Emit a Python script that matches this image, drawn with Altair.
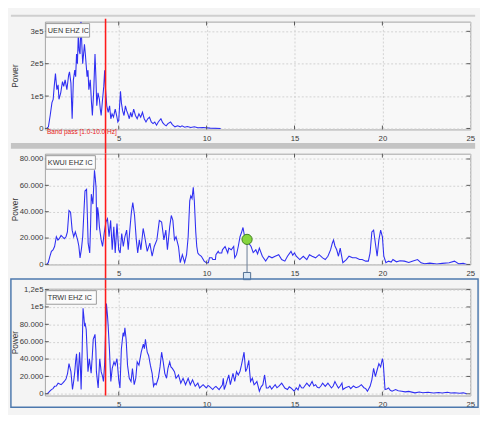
import altair as alt
import pandas as pd

# ---------------- data ----------------
uen_freq = [0.9, 1.0, 1.1, 1.2, 1.27, 1.33, 1.4, 1.48, 1.55, 1.6, 1.7, 1.8, 1.87, 1.95, 2.05, 2.15, 2.2, 2.28,
            2.35, 2.42, 2.5, 2.55, 2.6, 2.65, 2.7, 2.75, 2.8, 2.85, 2.9, 2.95, 3.05, 3.1, 3.2, 3.25, 3.3, 3.38,
            3.45, 3.5, 3.58, 3.65, 3.7, 3.75, 3.82, 3.9, 3.95, 4.0, 4.08, 4.15, 4.2, 4.25, 4.32, 4.4, 4.48,
            4.55, 4.62, 4.7, 4.8, 4.88, 4.95, 5.0, 5.05, 5.1, 5.15, 5.22, 5.3, 5.38, 5.45, 5.52, 5.6, 5.68,
            5.75, 5.85, 5.95, 6.05, 6.15, 6.25, 6.35, 6.45, 6.55, 6.65, 6.75, 6.85, 6.95, 7.05, 7.15, 7.25,
            7.4, 7.5, 7.6, 7.7, 7.8, 7.95, 8.05, 8.2, 8.35, 8.5, 8.6, 8.75, 8.9, 9.1, 9.3, 9.5, 9.8, 10.2, 10.8]
uen_power = [0, 5000, 40000, 80000, 90000, 130000, 170000, 120000, 135000, 90000, 110000, 145000, 130000,
             150000, 120000, 165000, 175000, 140000, 30000, 150000, 180000, 160000, 230000, 200000, 290000,
             240000, 230000, 330000, 260000, 200000, 260000, 230000, 160000, 180000, 120000, 150000, 80000,
             40000, 120000, 230000, 160000, 70000, 110000, 90000, 60000, 40000, 90000, 130000, 180000, 120000,
             70000, 50000, 70000, 30000, 45000, 35000, 60000, 40000, 20000, 25000, 70000, 115000, 80000, 55000,
             40000, 70000, 55000, 45000, 30000, 50000, 35000, 60000, 40000, 30000, 45000, 35000, 50000, 30000,
             20000, 30000, 35000, 20000, 15000, 20000, 10000, 20000, 30000, 18000, 12000, 8000, 15000, 20000,
             12000, 5000, 8000, 5000, 8000, 4000, 6000, 3000, 5000, 2000, 3000, 1000, 0]

kwui_freq = [0.9, 0.99, 1.08, 1.17, 1.26, 1.35, 1.45, 1.54, 1.63, 1.72, 1.8, 1.9, 2.0, 2.08, 2.17, 2.26, 2.35,
             2.44, 2.53, 2.66, 2.73, 2.8, 2.88, 2.95, 3.02, 3.08, 3.17, 3.22, 3.26, 3.35, 3.4, 3.44, 3.53, 3.58,
             3.62, 3.67, 3.71, 3.75, 3.8, 3.85, 3.9, 4.0, 4.08, 4.17, 4.27, 4.36, 4.45, 4.54, 4.63, 4.72, 4.8,
             4.9, 5.0, 5.08, 5.17, 5.26, 5.35, 5.45, 5.54, 5.63, 5.72, 5.8, 5.9, 6.0, 6.08, 6.17, 6.26, 6.39,
             6.48, 6.62, 6.77, 6.9, 7.02, 7.17, 7.31, 7.44, 7.57, 7.68, 7.77, 7.9, 7.99, 8.08, 8.17, 8.26, 8.4,
             8.5, 8.62, 8.75, 8.86, 8.95, 9.04, 9.1, 9.17, 9.24, 9.3, 9.38, 9.44, 9.5, 9.57, 9.7, 9.86, 9.98,
             10.1, 10.16, 10.3, 10.35, 10.5, 10.53, 10.66, 10.71, 10.86, 10.9, 11.05, 11.2, 11.26, 11.4, 11.54,
             11.6, 11.7, 11.8, 11.9, 11.98, 12.07, 12.16, 12.3, 12.4, 12.53, 12.65, 12.8, 12.9, 13.0, 13.17,
             13.36, 13.54, 13.72, 13.9, 14.1, 14.27, 14.45, 14.6, 14.8, 14.9, 15.0, 15.1, 15.3, 15.5, 15.7,
             15.85, 16.0, 16.2, 16.4, 16.6, 16.75, 16.9, 17.05, 17.15, 17.22, 17.3, 17.4, 17.5, 17.6, 17.75,
             17.95, 18.1, 18.3, 18.5, 18.7, 18.85, 19.05, 19.2, 19.3, 19.4, 19.5, 19.6, 19.7, 19.8, 19.9, 20.0,
             20.08, 20.2, 20.35, 20.5, 20.6, 20.8, 21.0, 21.25, 21.5, 21.7, 22.0, 22.2, 22.4, 22.7, 23.1, 23.4,
             23.8, 24.1, 24.35, 24.6, 24.8]
kwui_power = [0, 1300, 6000, 9900, 11000, 13600, 21000, 18500, 19800, 22000, 21000, 19500, 21000, 24700, 40900,
              39600, 26000, 21000, 24700, 18600, 14000, 5000, 12000, 21000, 40000, 55700, 57000, 35000, 16100,
              8700, 30000, 53300, 45800, 60000, 71500, 65000, 58200, 26000, 43300, 38000, 28500, 18600, 13600,
              23500, 32200, 34700, 21000, 33400, 11100, 28500, 8700, 31000, 11100, 8700, 23500, 13600, 21000,
              26000, 11100, 26000, 39600, 47000, 37100, 18600, 8700, 18600, 11100, 27300, 21000, 9900, 16100,
              6200, 13600, 18600, 33400, 32200, 18600, 26000, 11100, 28500, 37100, 33400, 18600, 21000, 13600,
              1300, 7400, 1300, 7400, 21000, 48300, 52000, 50000, 58500, 48300, 25000, 13600, 8700, 7400, 6200,
              2500, 1300, 1300, 5000, 5000, 3700, 3700, 7400, 9900, 8700, 8700, 11100, 13600, 8700, 12400, 11100,
              13600, 5000, 7400, 13600, 21000, 24000, 28000, 21000, 19000, 16000, 13600, 9000, 11100, 8000,
              12400, 6200, 2500, 6200, 5000, 6200, 7400, 3700, 2500, 6200, 9900, 7000, 8700, 6200, 3700, 6200,
              3700, 7400, 6200, 5000, 7400, 5000, 3700, 6200, 11000, 16100, 18500, 14000, 11100, 6200, 12400,
              1300, 3700, 6200, 5000, 5000, 3700, 3700, 2500, 2500, 8700, 24700, 26000, 16100, 6200, 18600,
              26000, 21000, 6200, 1300, 2500, 1800, 3700, 2000, 2800, 2500, 1500, 2500, 3700, 1200, 500, 1000,
              300, 800, 1300, 2500, 400, 800, 0]

trwi_freq = [0.9, 0.99, 1.08, 1.17, 1.26, 1.35, 1.45, 1.55, 1.62, 1.72, 1.8, 1.9, 2.0, 2.09, 2.17, 2.28, 2.37,
             2.44, 2.5, 2.55, 2.6, 2.68, 2.77, 2.82, 2.86, 2.92, 2.97, 3.02, 3.06, 3.1, 3.15, 3.2, 3.25, 3.33,
             3.43, 3.5, 3.55, 3.65, 3.7, 3.73, 3.83, 3.92, 4.0, 4.08, 4.13, 4.2, 4.24, 4.3, 4.36, 4.4, 4.47,
             4.55, 4.63, 4.73, 4.8, 4.9, 5.0, 5.07, 5.15, 5.25, 5.3, 5.35, 5.42, 5.5, 5.6, 5.7, 5.78, 5.88,
             5.97, 6.05, 6.15, 6.28, 6.4, 6.46, 6.52, 6.57, 6.62, 6.7, 6.8, 6.9, 6.98, 7.06, 7.13, 7.25, 7.35,
             7.44, 7.53, 7.62, 7.72, 7.8, 7.9, 7.97, 8.05, 8.17, 8.26, 8.4, 8.53, 8.66, 8.8, 8.95, 9.07, 9.2,
             9.35, 9.5, 9.6, 9.8, 9.98, 10.08, 10.16, 10.35, 10.45, 10.53, 10.71, 10.9, 10.95, 11.0, 11.1,
             11.15, 11.26, 11.35, 11.5, 11.6, 11.7, 11.8, 11.9, 11.98, 12.05, 12.13, 12.22, 12.3, 12.4, 12.45,
             12.5, 12.6, 12.7, 12.78, 12.86, 13.0, 13.1, 13.2, 13.3, 13.4, 13.5, 13.6, 13.7, 13.9, 14.0, 14.1,
             14.27, 14.45, 14.6, 14.7, 14.8, 14.98, 15.1, 15.2, 15.3, 15.4, 15.5, 15.6, 15.7, 15.85, 16.0,
             16.1, 16.2, 16.3, 16.4, 16.5, 16.6, 16.75, 16.9, 17.0, 17.1, 17.2, 17.3, 17.4, 17.5, 17.6, 17.7,
             17.75, 17.9, 18.1, 18.2, 18.35, 18.5, 18.65, 18.8, 18.95, 19.05, 19.15, 19.3, 19.4, 19.5, 19.6,
             19.7, 19.8, 19.9, 20.0, 20.05, 20.1, 20.15, 20.25, 20.35, 20.45, 20.55, 20.75, 20.9, 21.1, 21.3,
             21.5, 21.85, 22.1, 22.3, 22.6, 22.9, 23.2, 23.4, 23.7, 23.9, 24.1, 24.4, 24.6, 24.8]
trwi_power = [0, 1100, 3000, 4900, 6000, 8600, 9000, 12300, 11500, 10500, 12000, 14200, 17000, 23600, 34800,
              25500, 4900, 15000, 25500, 38000, 46000, 14200, 47900, 30000, 4900, 50000, 98400, 88000, 77800,
              80000, 74000, 50000, 25500, 40400, 23600, 45000, 62800, 68400, 50000, 25500, 6700, 40400, 25500,
              20000, 14200, 35000, 62800, 104000, 90000, 77800, 51600, 14200, 29200, 36700, 33000, 40400, 16100,
              6700, 51600, 70300, 66000, 75900, 62800, 33000, 17900, 14200, 29200, 10500, 17900, 36700, 33000,
              47900, 57200, 52000, 62800, 55000, 47900, 44200, 33000, 23600, 8600, 12000, 10500, 17900, 31000,
              47900, 36700, 23600, 17900, 29200, 36700, 31000, 29200, 25500, 17900, 21700, 12300, 17900, 10500,
              17900, 10500, 16100, 8600, 12300, 6700, 10500, 6700, 9500, 8600, 4900, 7500, 8600, 4900, 10500,
              17900, 4900, 10500, 14200, 21700, 10500, 23600, 14200, 25500, 21700, 26000, 33000, 40000, 47900,
              25500, 29200, 38600, 25000, 14200, 17900, 10500, 12000, 14200, 3000, 8000, 10500, 21700, 6700,
              6700, 9000, 5500, 10500, 7000, 8600, 12300, 6700, 4900, 8000, 6700, 3000, 6700, 4500, 10500, 7000,
              6700, 9500, 12300, 8600, 14200, 9000, 10500, 7500, 6700, 9000, 12300, 8600, 12300, 9500, 6700,
              9000, 14200, 10000, 6700, 9000, 12300, 4900, 7000, 8600, 6000, 9000, 7000, 8000, 10500, 7000,
              6000, 3000, 8600, 16100, 29200, 19800, 27400, 34800, 31000, 40400, 35000, 19800, 4900, 5500, 6700,
              4000, 3000, 4900, 3500, 3000, 2200, 2800, 1100, 2000, 1200, 1800, 1000, 1500, 900, 1800, 1000,
              1300, 700, 1100, 0]

station_labels = ["UEN EHZ IC", "KWUI EHZ IC", "TRWI EHZ IC"]
x_ticks = [5, 10, 15, 20, 25]
uen_ticks = [0, 100000, 200000, 300000]
kwui_ticks = [0, 20000, 40000, 60000, 80000]
trwi_ticks = [0, 20000, 40000, 60000, 80000, 100000, 120000]
marker_freq = [4.25]          # red vertical marker
bandpass_text = ["Band pass [1.0-10.0 Hz]"]
bandpass_freq = [0.92]
cursor_freq = [12.3]          # green data cursor on KWUI
cursor_power = [19000]

# ---------------- styling ----------------
W = 438
X_DOMAIN = [0.8, 25]
LINE_COLOR = "#2f2ff2"
FONT = "Liberation Sans"
TICK_COLOR = "#555555"

# one x encoding object shared by every layer, so the merged axis stays intact
XE = alt.X("f:Q", scale=alt.Scale(domain=X_DOMAIN, nice=False, zero=False),
           axis=alt.Axis(values=x_ticks, title=None, ticks=False, domain=False,
                         labelPadding=5, labelFlush=False))


def make_y(ydomain, ticks, expr, h):
    return alt.Y("p:Q", scale=alt.Scale(domain=ydomain, nice=False, zero=False),
                 axis=alt.Axis(values=ticks, labelExpr=expr, title="Power", titleX=-26, titleY=h / 2,
                               titleAngle=-90, titleBaseline="bottom", ticks=False, domain=False,
                               labelPadding=2))


def inner_ticks(h, yticks, YE):
    """MATLAB-style inward ticks on all four sides, positioned by the scales."""
    xt = pd.DataFrame({"f": [v for v in x_ticks if v < X_DOMAIN[1]]})
    yt = pd.DataFrame({"p": yticks})
    top = alt.Chart(xt).mark_rule(color=TICK_COLOR, strokeWidth=1).encode(
        x=XE, y=alt.value(0), y2=alt.value(4))
    bot = alt.Chart(xt).mark_rule(color=TICK_COLOR, strokeWidth=1).encode(
        x=XE, y=alt.value(h - 4), y2=alt.value(h))
    left = alt.Chart(yt).mark_rule(color=TICK_COLOR, strokeWidth=1).encode(
        y=YE, x=alt.value(0), x2=alt.value(4))
    right = alt.Chart(yt).mark_rule(color=TICK_COLOR, strokeWidth=1).encode(
        y=YE, x=alt.value(W - 4), x2=alt.value(W))
    return [top, bot, left, right]


def panel(freq, power, YE, ticks, h, label, box_w, red_y2, extras):
    df = pd.DataFrame({"f": freq, "p": power})
    line = alt.Chart(df).mark_line(color=LINE_COLOR, strokeWidth=1.1, clip=True).encode(x=XE, y=YE)
    red = alt.Chart(pd.DataFrame({"f": marker_freq})).mark_rule(color="#ff1a1a", strokeWidth=1.6).encode(
        x=XE, y=alt.value(red_y2[0]), y2=alt.value(red_y2[1]))
    box = alt.Chart(pd.DataFrame({"t": [label]})).mark_rect(
        fill="#fbfbfb", stroke="#9a9a9a", strokeWidth=1).encode(
        x=alt.value(1), x2=alt.value(1 + box_w), y=alt.value(2), y2=alt.value(16))
    txt = alt.Chart(pd.DataFrame({"t": [label]})).mark_text(
        align="left", baseline="middle", fontSize=7.5, font=FONT, color="#333333").encode(
        x=alt.value(3), y=alt.value(9.5), text="t:N")
    layers = [line] + inner_ticks(h, ticks, YE) + extras + [red, box, txt]
    return alt.layer(*layers).properties(width=W, height=h)


H1, H2, H3 = 111, 114, 110

# ---- panel 1 ----
Y1 = make_y([-3000, 330000], uen_ticks,
            "datum.value == 0 ? '0' : (datum.value / 100000) + 'e5'", H1)
top_band = alt.Chart(pd.DataFrame({"a": [0]})).mark_rect(color="#cfcfcf").encode(
    x=alt.value(-35), x2=alt.value(W + 5), y=alt.value(-7), y2=alt.value(-5))
mid_band = alt.Chart(pd.DataFrame({"a": [0]})).mark_rect(color="#c4c4c4").encode(
    x=alt.value(-35), x2=alt.value(W + 5), y=alt.value(H1 + 14), y2=alt.value(H1 + 20))
band_txt = alt.Chart(pd.DataFrame({"f": bandpass_freq, "t": bandpass_text})).mark_text(
    align="left", baseline="middle", fontSize=6.7, font=FONT, color="#e82020").encode(
    x=XE, y=alt.value(H1 + 3), text="t:N")
p1 = panel(uen_freq, uen_power, Y1, uen_ticks, H1, station_labels[0], 45, [-3, H1 + 25],
           [top_band, mid_band, band_txt])

# ---- panel 2 ----
Y2 = make_y([0, 84000], kwui_ticks,
            "datum.value == 0 ? '0' : (datum.value / 1000) + '.000'", H2)
cur_df = pd.DataFrame({"f": cursor_freq, "p": cursor_power})
cur_rule = alt.Chart(cur_df).mark_rule(color="#7d8ea3", strokeWidth=1.2).encode(
    x=XE, y=Y2, y2=alt.value(H2 + 9))
cur_sq = alt.Chart(cur_df).mark_point(shape="square", filled=True, size=55, fill="#dbe8f4",
                                      stroke="#4f6d92", strokeWidth=1, opacity=1).encode(
    x=XE, y=alt.value(H2 + 12))
cur_pt = alt.Chart(cur_df).mark_point(shape="circle", filled=True, size=110, fill="#86d63e",
                                      stroke="#3f7f1f", strokeWidth=1, opacity=1).encode(
    x=XE, y=Y2)
p2 = panel(kwui_freq, kwui_power, Y2, kwui_ticks, H2, station_labels[1], 51, [0, H2 + 25],
           [cur_rule, cur_sq, cur_pt])

# ---- panel 3 ----
Y3 = make_y([-2000, 121000], trwi_ticks,
            "datum.value == 120000 ? '1,2e5' : datum.value == 100000 ? '1e5' : "
            "datum.value == 0 ? '0' : (datum.value / 1000) + '.000'", H3)
frame = alt.Chart(pd.DataFrame({"a": [0]})).mark_rect(
    filled=False, stroke="#4c78ad", strokeWidth=1.5).encode(
    x=alt.value(-35), x2=alt.value(W + 8), y=alt.value(-10), y2=alt.value(H3 + 12))
p3 = panel(trwi_freq, trwi_power, Y3, trwi_ticks, H3, station_labels[2], 52, [0, H3], [frame])

chart = alt.vconcat(p1, p2, p3, spacing=25, bounds="flush").properties(
    padding={"left": 1, "top": 0, "right": 0, "bottom": 0}
).configure(
    background="#f4f4f4", font=FONT
).configure_view(
    fill="#f8f8f8", stroke="#a3a3a3", strokeWidth=1
).configure_axis(
    labelFontSize=8, labelColor="#3a3a3a", labelFont=FONT,
    titleFontSize=8.5, titleColor="#3a3a3a", titleFont=FONT, titleFontWeight="normal",
    gridColor="#d2d2d2", gridDash=[2, 2], gridWidth=1
)

chart.save("out.html", embed_options={"renderer": "svg", "actions": False})
